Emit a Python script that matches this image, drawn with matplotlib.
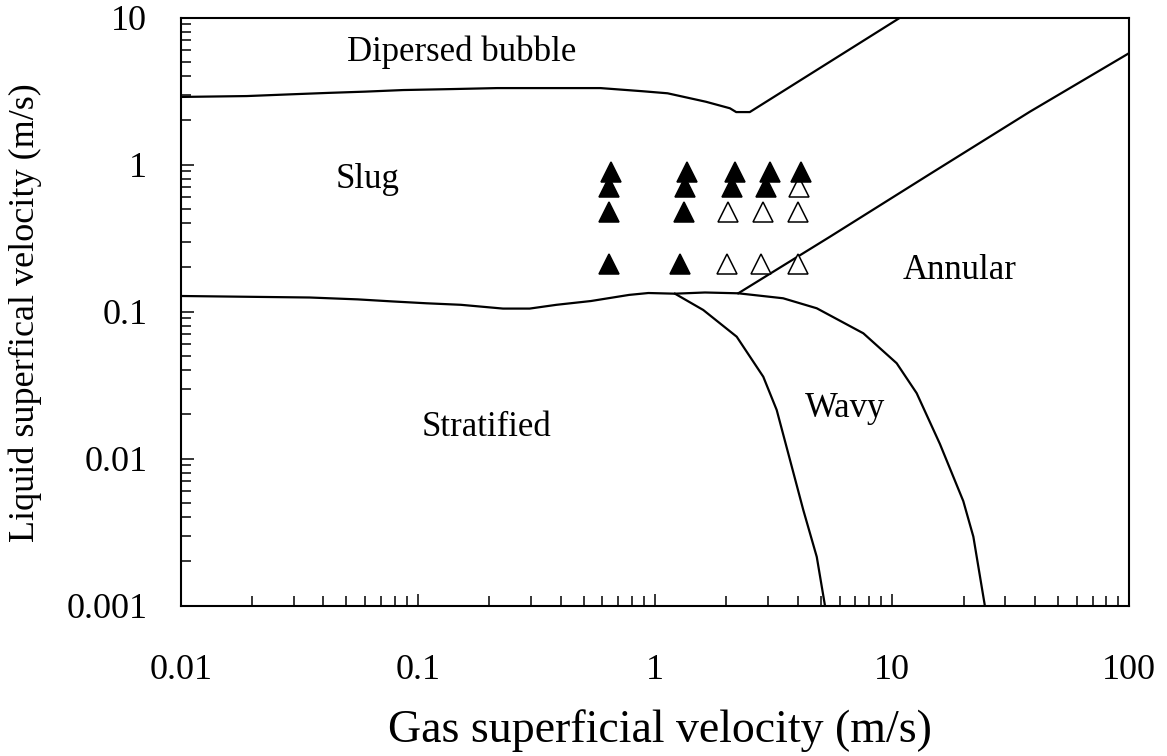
import matplotlib
matplotlib.use("Agg")
import matplotlib.pyplot as plt
from matplotlib.ticker import LogLocator, FuncFormatter

plt.rcParams['font.family'] = ['Liberation Serif', 'DejaVu Serif']

# flow regime boundaries
bubble_x = [0.01, 0.019, 0.029, 0.0421, 0.0599, 0.0869, 0.141, 0.216, 0.589, 0.887,
            1.13, 1.64, 2.07, 2.20, 2.51, 10.8]
bubble_y = [2.89, 2.93, 3.01, 3.08, 3.14, 3.22, 3.27, 3.32, 3.32, 3.16,
            3.06, 2.68, 2.42, 2.28, 2.28, 10.0]

strat_x = [0.01, 0.035, 0.0557, 0.0778, 0.1087, 0.152, 0.2286, 0.2962, 0.3843, 0.537,
           0.778, 0.938, 1.214, 1.625, 2.245, 3.47, 4.81, 7.56, 10.45, 12.69,
           15.9, 19.95, 22.0, 24.6]
strat_y = [0.1279, 0.1249, 0.1213, 0.1175, 0.1141, 0.1114, 0.1050, 0.1050, 0.1114, 0.1182,
           0.1301, 0.1340, 0.1326, 0.1351, 0.1334, 0.1234, 0.1055, 0.0713, 0.0446, 0.0279,
           0.0126, 0.00515, 0.00295, 0.001]

wavy_x = [1.214, 1.598, 2.211, 2.862, 3.26, 3.71, 4.22, 4.81, 5.21]
wavy_y = [0.1326, 0.1027, 0.0676, 0.0361, 0.02145, 0.0098, 0.00448, 0.00215, 0.001]

annular_x = [2.245, 5.47, 14.44, 38.1, 100]
annular_y = [0.1334, 0.3237, 0.8646, 2.294, 5.75]

# experimental points
filled_x = [0.65, 0.64, 0.64, 0.64, 1.36, 1.34, 1.33, 1.27, 2.18, 2.11, 3.05, 2.94, 4.13]
filled_y = [0.89, 0.70, 0.48, 0.21, 0.89, 0.70, 0.48, 0.21, 0.89, 0.70, 0.89, 0.70, 0.89]
open_x = [2.04, 2.01, 2.86, 2.80, 4.06, 4.02, 4.00]
open_y = [0.48, 0.21, 0.48, 0.21, 0.70, 0.48, 0.21]

fig = plt.figure(figsize=(11.67, 7.56), dpi=100)
ax = fig.add_axes([0.1548, 0.1988, 0.8129, 0.7778])
ax.set_xscale('log')
ax.set_yscale('log')

lw = 1.6
ax.plot(bubble_x, bubble_y, color='black', lw=lw)
ax.plot(strat_x, strat_y, color='black', lw=lw)
ax.plot(wavy_x, wavy_y, color='black', lw=lw)
ax.plot(annular_x, annular_y, color='black', lw=lw)

ax.plot(open_x, open_y, ls='none', marker='^', ms=15, mfc='white', mec='black', mew=1.1)
ax.plot(filled_x, filled_y, ls='none', marker='^', ms=15, mfc='black', mec='black', mew=1.1)

ax.set_xlim(0.01, 100)
ax.set_ylim(0.001, 10)

fs = 25
ax.text(0.1536, 5.85, 'Dipersed bubble', fontsize=fs, ha='center', va='center')
ax.text(0.0611, 0.787, 'Slug', fontsize=fs, ha='center', va='center')
ax.text(19.3, 0.192, 'Annular', fontsize=fs, ha='center', va='center')
ax.text(0.1957, 0.0164, 'Stratified', fontsize=fs, ha='center', va='center')
ax.text(6.33, 0.0221, 'Wavy', fontsize=fs, ha='center', va='center')

fmt = FuncFormatter(lambda v, p: '%g' % v)
for axis in (ax.xaxis, ax.yaxis):
    axis.set_major_locator(LogLocator(base=10))
    axis.set_minor_locator(LogLocator(base=10, subs=range(2, 10)))
    axis.set_major_formatter(fmt)
    axis.set_minor_formatter(plt.NullFormatter())

ax.tick_params(which='both', direction='in', top=False, right=False, width=1.1, labelsize=26)
ax.tick_params(which='major', length=9)
ax.tick_params(which='minor', length=7)
ax.tick_params(axis='x', which='major', pad=35)
ax.tick_params(axis='y', which='major', pad=24)
for s in ax.spines.values():
    s.set_linewidth(1.5)

fig.text(0.5656, 0.034, 'Gas superficial velocity (m/s)', fontsize=33, ha='center', va='center')
fig.text(0.0214, 0.587, 'Liquid superfical velocity (m/s)', fontsize=26, ha='center', va='center',
         rotation=90)

fig.savefig('out.png', dpi=100)
